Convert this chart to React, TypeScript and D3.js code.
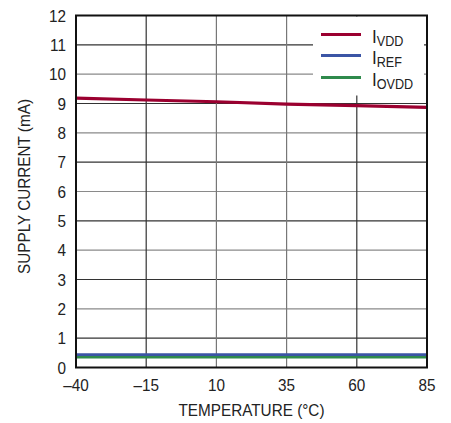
import React from "react";
import * as d3 from "d3";

const temps = [-40, -15, 10, 35, 60, 85];
const iVdd = [9.18, 9.12, 9.06, 8.98, 8.93, 8.87];
const iRef = [0.44, 0.44, 0.44, 0.44, 0.44, 0.44];
const iOvdd = [0.35, 0.35, 0.35, 0.35, 0.35, 0.35];
const xTicks = [-40, -15, 10, 35, 60, 85];
const yTicks = [0, 1, 2, 3, 4, 5, 6, 7, 8, 9, 10, 11, 12];
const seriesNames = ["VDD", "REF", "OVDD"];
const seriesColors = ["#9b0030", "#3b55a5", "#2f8a4c"];

const W = 451, H = 423;
const left = 76, right = 427, top = 15.5, bottom = 367.5;
const FONT = "'Liberation Sans', Arial, sans-serif";
const SX = 0.9;

export default function App() {
  const x = d3.scaleLinear().domain([-40, 85]).range([left, right]);
  const y = d3.scaleLinear().domain([0, 12]).range([bottom, top]);
  const line = d3.line<number>().x((_, i) => x(temps[i])).y((d) => y(d));
  const series = [iVdd, iRef, iOvdd];
  const fmt = (v: number) => (v < 0 ? "\u2013" + Math.abs(v) : String(v));
  const legY = [34.5, 55.5, 77.5];

  return (
    <svg width={W} height={H} style={{ position: "absolute", left: 0, top: 0, background: "#fff" }} fontFamily={FONT}>
      <rect x={0} y={0} width={W} height={H} fill="#fff" />
      {yTicks.map((t) => (
        <line key={"h" + t} x1={left} x2={right} y1={y(t)} y2={y(t)} stroke={t % 2 === 0 ? "#8a8a8a" : "#333"} strokeWidth={1.2} />
      ))}
      {xTicks.map((t) => (
        <line key={"v" + t} x1={x(t)} x2={x(t)} y1={top} y2={bottom} stroke={t === 10 || t === 35 ? "#777" : "#333"} strokeWidth={1.2} />
      ))}
      <rect x={313} y={top + 1} width={111} height={79} fill="#fff" />
      {series.map((s, i) => (
        <path key={"s" + i} d={line(s) || ""} fill="none" stroke={seriesColors[i]} strokeWidth={i === 0 ? 3.2 : 2.6} />
      ))}
      <rect x={left} y={top} width={right - left} height={bottom - top} fill="none" stroke="#111" strokeWidth={2} />
      {yTicks.map((t) => (
        <text key={"yl" + t} transform={`translate(66,${y(t)}) scale(${SX},1)`} dy="0.36em" textAnchor="end" fontSize={17} fill="#222">{t}</text>
      ))}
      {xTicks.map((t) => (
        <text key={"xl" + t} transform={`translate(${x(t)},391) scale(${SX},1)`} textAnchor="middle" fontSize={17} fill="#222">{fmt(t)}</text>
      ))}
      <text transform={`translate(${(left + right) / 2},416) scale(${SX},1)`} textAnchor="middle" fontSize={17} fill="#222">TEMPERATURE (°C)</text>
      <text transform={`translate(30,186.5) rotate(-90) scale(${SX},1)`} textAnchor="middle" fontSize={17} fill="#222">SUPPLY CURRENT (mA)</text>
      {seriesNames.map((n, i) => (
        <g key={"lg" + i}>
          <line x1={321} x2={361} y1={legY[i]} y2={legY[i]} stroke={seriesColors[i]} strokeWidth={3} />
          <text transform={`translate(372,${legY[i] + 8.5}) scale(${SX},1)`} fontSize={19} fill="#222">
            I<tspan fontSize={14} dy={3}>{n}</tspan>
          </text>
        </g>
      ))}
    </svg>
  );
}
